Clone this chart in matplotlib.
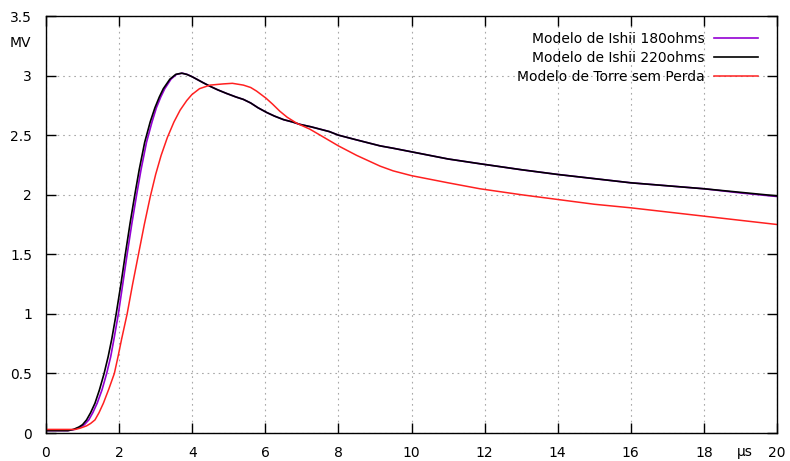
import numpy as np
import matplotlib
matplotlib.use("Agg")
import matplotlib.pyplot as plt

# tempo (us) e tensao (MV)
t_220 = [0, 0.6, 0.75, 0.9, 1.0, 1.11, 1.22, 1.34, 1.46, 1.59, 1.7, 1.8, 1.92, 2.05, 2.17,
         2.3, 2.43, 2.55, 2.7, 2.85, 2.98, 3.1, 3.21, 3.39, 3.55, 3.71, 3.85, 4.0, 4.12,
         4.3, 4.49, 4.7, 4.94, 5.2, 5.4, 5.6, 5.8, 6.04, 6.25, 6.5, 6.75, 6.95, 7.25,
         7.5, 7.75, 8, 8.5, 9.14, 9.5, 10, 11, 11.87, 13, 14, 15, 16, 17, 18, 19, 20]
v_220 = [0.02, 0.02, 0.03, 0.05, 0.07, 0.11, 0.17, 0.25, 0.36, 0.5, 0.64, 0.79, 1.0, 1.25, 1.5,
         1.76, 2.0, 2.21, 2.44, 2.61, 2.73, 2.82, 2.89, 2.97, 3.01, 3.02, 3.01, 2.99, 2.97,
         2.94, 2.91, 2.88, 2.85, 2.82, 2.80, 2.77, 2.73, 2.69, 2.66, 2.63, 2.61, 2.59, 2.57,
         2.55, 2.53, 2.50, 2.46, 2.41, 2.39, 2.36, 2.30, 2.26, 2.21, 2.17, 2.135, 2.10, 2.075, 2.05, 2.02, 1.99]

t_180 = [0, 0.6, 0.78, 0.94, 1.05, 1.17, 1.28, 1.4, 1.53, 1.66, 1.77, 1.86, 1.98, 2.1, 2.22,
         2.35, 2.48, 2.6, 2.75, 2.9, 3.02, 3.14, 3.25, 3.42, 3.57, 3.73, 3.86, 4.0, 4.12,
         4.3, 4.49, 4.7, 4.94, 5.2, 5.4, 5.6, 5.8, 6.04, 6.25, 6.5, 6.75, 6.95, 7.25,
         7.5, 7.75, 8, 8.5, 9.14, 9.5, 10, 11, 11.87, 13, 14, 15, 16, 17, 18, 19, 20]
v_180 = [0.02, 0.02, 0.03, 0.05, 0.07, 0.11, 0.17, 0.25, 0.36, 0.5, 0.64, 0.79, 1.0, 1.25, 1.5,
         1.76, 2.0, 2.21, 2.44, 2.61, 2.73, 2.82, 2.89, 2.97, 3.01, 3.02, 3.01, 2.99, 2.97,
         2.94, 2.91, 2.88, 2.85, 2.82, 2.80, 2.77, 2.73, 2.69, 2.66, 2.63, 2.61, 2.59, 2.57,
         2.55, 2.53, 2.50, 2.46, 2.41, 2.39, 2.36, 2.30, 2.26, 2.21, 2.17, 2.135, 2.10, 2.075, 2.05, 2.015, 1.985]

t_torre = [0, 0.8, 0.93, 1.02, 1.11, 1.22, 1.34, 1.45, 1.57, 1.72, 1.87, 1.97, 2.07, 2.22,
           2.37, 2.53, 2.69, 2.85, 3.0, 3.15, 3.32, 3.5, 3.67, 3.85, 3.99, 4.2, 4.49, 4.85,
           5.1, 5.4, 5.6, 5.76, 6.02, 6.2, 6.4, 6.6, 6.86, 7.22, 7.5, 8, 8.5, 9.14, 9.5,
           10, 10.5, 11, 11.87, 13, 14, 15, 16, 17, 18, 19, 20]
v_torre = [0.03, 0.03, 0.04, 0.05, 0.06, 0.08, 0.11, 0.17, 0.25, 0.37, 0.5, 0.64, 0.79, 1.0,
           1.25, 1.5, 1.75, 1.98, 2.17, 2.33, 2.48, 2.61, 2.71, 2.79, 2.84, 2.89, 2.92, 2.93,
           2.935, 2.92, 2.90, 2.87, 2.81, 2.76, 2.70, 2.65, 2.60, 2.55, 2.50, 2.41, 2.33, 2.24, 2.20,
           2.16, 2.13, 2.10, 2.05, 2.00, 1.96, 1.92, 1.89, 1.855, 1.82, 1.785, 1.75]

labels = ["Modelo de Ishii 180ohms", "Modelo de Ishii 220ohms", "Modelo de Torre sem Perda"]
xticks = list(range(0, 21, 2))
yticks = [0, 0.5, 1, 1.5, 2, 2.5, 3, 3.5]

plt.rcParams['font.family'] = ['DejaVu Sans']
plt.rcParams['font.size'] = 10

fig = plt.figure(figsize=(7.9, 4.61), dpi=100)
ax = fig.add_axes([46/790, 28/461, 731/790, 417/461])

ax.plot(t_180, v_180, color='#9400d3', lw=1.2, label=labels[0])
ax.plot(t_220, v_220, color='black', lw=1.2, label=labels[1])
ax.plot(t_torre, v_torre, color='#ff2020', lw=1.1, label=labels[2])

ax.set_xlim(0, 20)
ax.set_ylim(0, 3.5)
ax.set_xticks(xticks)
ax.set_yticks(yticks)
ax.set_yticklabels(['0', '0.5', '1', '1.5', '2', '2.5', '3', '3.5'])
ax.tick_params(direction='in', length=7, width=1, top=True, right=True, pad=9)
ax.tick_params(axis='y', pad=10)
for s in ax.spines.values():
    s.set_linewidth(1)
ax.grid(True, color='#a8a8a8', lw=0.8, linestyle=(0, (1.5, 3.5)))

leg = ax.legend(loc='upper right', bbox_to_anchor=(0.974, 0.962), frameon=False,
                markerfirst=False, handlelength=3.2, handletextpad=0.65,
                labelspacing=0.36, borderpad=0, borderaxespad=0)

fig.text(20/790, 1 - 43/461, "MV", ha='center', va='center', fontsize=10)
fig.text(745/790, 1 - 452/461, "μs", ha='center', va='center', fontsize=10)

fig.savefig("out.png", dpi=100)
